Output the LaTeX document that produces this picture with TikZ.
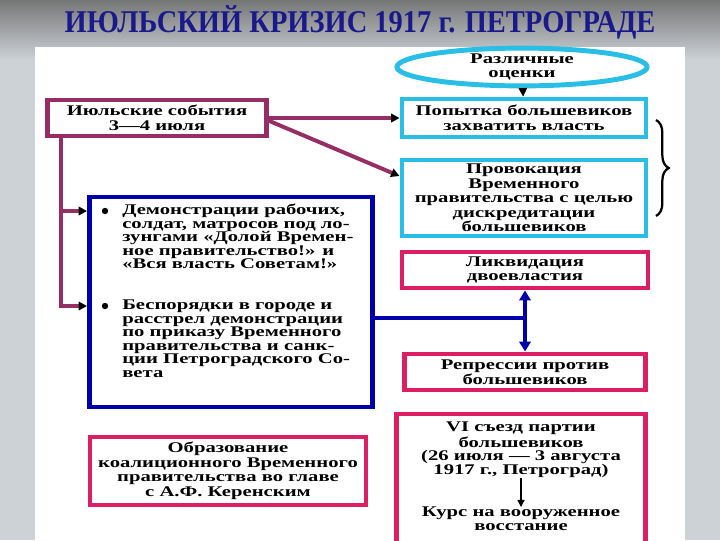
\documentclass[tikz,border=0pt]{standalone}
\usepackage{fontspec}
\newfontfamily\boxfont[FakeStretch=1.40]{Liberation Serif}
\newfontfamily\titlefont[FakeStretch=0.9]{Liberation Serif}
\usetikzlibrary{arrows.meta,shapes.geometric,decorations.pathreplacing,positioning}

\definecolor{plum}{RGB}{150,45,100}
\definecolor{skyb}{RGB}{40,190,230}
\definecolor{navyb}{RGB}{0,0,170}
\definecolor{rose}{RGB}{220,30,100}
\definecolor{titleblue}{RGB}{25,25,140}
\definecolor{bggray}{RGB}{205,210,215}
\definecolor{topgray}{RGB}{118,118,118}

\newcommand{\pxu}{0.025cm}

\tikzset{
    box/.style={draw, line width=3.5pt, fill=white, align=center, inner sep=1pt,
        font=\boxfont\bfseries\fontsize{10.5}{10.3}\selectfont},
    skybox/.style={box, draw=skyb},
    rosebox/.style={box, draw=rose},
    plumbox/.style={box, draw=plum},
    itemtext/.style={align=left, inner sep=0pt, anchor=north west,
        font=\boxfont\bfseries\fontsize{10.5}{9.6}\selectfont},
    blacktip/.tip={Triangle[color=black, fill=black, length=6pt, width=6pt]},
    bluetip/.tip={Triangle[color=navyb, fill=navyb, length=7pt, width=8pt]},
    plumline/.style={plum, line width=2.8pt, -{blacktip}},
    blueline/.style={navyb, line width=2.8pt},
}

\begin{document}
\begin{tikzpicture}[x=\pxu, y=-\pxu]

    % Background and white sheet
    \clip (0,0) rectangle (720,540);
    \fill[bggray] (0,0) rectangle (720,540);
    \shade[top color=topgray, bottom color=bggray] (0,0) rectangle (720,60);
    \fill[white] (35,47) rectangle (685,540);

    % Title
    \node[font=\titlefont\bfseries\fontsize{22.5}{22}\selectfont, text=titleblue] (title) at (360,22)
        {ИЮЛЬСКИЙ КРИЗИС 1917 г. ПЕТРОГРАДЕ};

    % Right column
    \node[ellipse, draw=skyb, line width=3.5pt, fill=white, inner sep=0pt, align=center,
        minimum width=250*\pxu, minimum height=37*\pxu,
        font=\boxfont\bfseries\fontsize{10.5}{10.3}\selectfont] (ocenki) at (522,67)
        {Различные\\оценки};
    \node[skybox, minimum width=244*\pxu, minimum height=38*\pxu] (popyt) at (524,118)
        {Попытка большевиков\\захватить власть};
    \node[skybox, minimum width=244*\pxu, minimum height=76*\pxu] (provok) at (524,198)
        {Провокация\\Временного\\правительства с целью\\дискредитации\\большевиков};
    \node[rosebox, minimum width=246*\pxu, minimum height=36*\pxu] (likv) at (525,270)
        {Ликвидация\\двоевластия};
    \node[rosebox, minimum width=241*\pxu, minimum height=36*\pxu] (repr) at (525,372)
        {Репрессии против\\большевиков};
    \node[rosebox, minimum width=249*\pxu, minimum height=140*\pxu] (sezd) at (521,484) {};
    \node[itemtext, anchor=north, align=center] (sezdtext) at (521,422)
        {VI съезд партии\\большевиков\\(26 июля — 3 августа\\1917 г., Петроград)};
    \node[itemtext, anchor=north, align=center] (kurs) at (521,507)
        {Курс на вооруженное\\восстание};

    % Left column
    \node[plumbox, minimum width=219*\pxu, minimum height=36*\pxu] (iul) at (157,118)
        {Июльские события\\3—4 июля};
    \node[draw=navyb, line width=3.5pt, fill=white, minimum width=283*\pxu,
        minimum height=210*\pxu] (demo) at (231,302) {};
    \node[itemtext] (itemA) at (122,204)
        {Демонстрации рабочих,\\солдат, матросов под ло-\\зунгами «Долой Времен-\\ное правительство!» и\\«Вся власть Советам!»};
    \node[itemtext] (itemB) at (122,300)
        {Беспорядки в городе и\\расстрел демонстрации\\по приказу Временного\\правительства и санк-\\ции Петроградского Со-\\вета};
    \fill (105,211) circle (3.2);
    \fill (105,306) circle (3.2);
    \node[rosebox, minimum width=276*\pxu, minimum height=68*\pxu] (obraz) at (228,471)
        {Образование\\коалиционного Временного\\правительства во главе\\с А.Ф. Керенским};

    % Brace on the right
    \draw[decorate, decoration={brace, amplitude=9pt}, line width=1.6pt] (656,120) -- (656,216);

    % Connectors
    \draw[line width=1pt, -{blacktip}] (ocenki) -- (popyt);
    \draw[line width=0.8pt, -{Triangle[length=5pt, width=5pt]}] (sezdtext) -- (kurs);
    \draw[plumline] (iul.east) -- (popyt.west);
    \draw[plumline] ([yshift=-2pt]iul.east) -- (provok.170);
    \coordinate (trunk) at ([xshift=16*\pxu]iul.south west);
    \draw[plumline] (trunk) |- (demo.west |- 0,211);
    \draw[plumline] (trunk) |- (demo.west |- 0,306);
    \coordinate (junc) at (likv.south |- 0,318);
    \draw[blueline] (demo.east |- junc) -- (junc);
    \draw[blueline, {bluetip}-{bluetip}] (likv.south) -- (repr.north);

\end{tikzpicture}
\end{document}
